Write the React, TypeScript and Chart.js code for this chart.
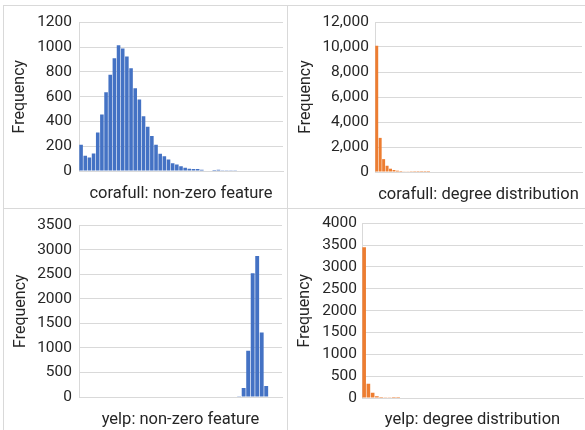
import React, { useEffect, useRef } from 'react';
import { Chart, registerables } from 'chart.js';

Chart.register(...registerables);

// ---------- data ----------
const corafullFeatureCounts = [
  211, 123, 108, 141, 310, 455, 635, 777, 910, 1015, 988, 923, 829, 667, 577, 441,
  358, 282, 212, 140, 120, 92, 63, 52, 39, 26, 18, 16, 16, 11, 5, 5, 8, 11, 3, 3, 3, 3,
  0, 0, 0, 0, 0, 0, 0, 0, 0, 0, 0,
];
const corafullDegreeCounts = [
  10100, 2730, 1030, 500, 263, 158, 105, 79, 53, 26, 15, 10, 6, 4, 3, 2,
  0, 0, 0, 0, 0, 0, 0, 0, 0, 0, 0, 0, 0, 0, 0, 0, 0, 0, 0, 0, 0, 0, 0, 0,
  0, 0, 0, 0, 0, 0, 0, 0, 0, 0, 0, 0, 0, 0, 0, 0, 0, 0, 0, 0,
];
const yelpFeatureCounts = [
  0, 0, 0, 0, 0, 0, 0, 0, 0, 0, 0, 0, 0, 0, 0, 0, 0, 0, 0, 0, 0, 0, 0, 0, 0, 0, 0, 0,
  0, 0, 0, 0, 0, 0, 0, 15, 183, 942, 2522, 2875, 1315, 224, 8, 0, 0,
];
const yelpDegreeCounts = [
  3449, 328, 123, 38, 23, 8, 4, 2, 1, 0, 0, 0, 0, 0, 0, 0, 0, 0, 0, 0, 0, 0, 0, 0, 0, 0,
  0, 0, 0, 0, 0, 0, 0, 0, 0, 0, 0, 0, 0, 0, 0, 0, 0, 0, 0, 0, 0, 0, 0, 0, 0, 0,
];

const panelTitles = [
  'corafull: non-zero feature',
  'corafull: degree distribution',
  'yelp: non-zero feature',
  'yelp: degree distribution',
];
const yAxisTitle = 'Frequency';
const yMaxima = [1200, 12000, 3500, 4000];
const ySteps = [200, 2000, 500, 500];
const useThousandsSeparator = [false, true, false, false];

const BLUE = '#4472C4';
const ORANGE = '#ED7D31';
const GRID = '#d9d9d9';
const TEXT = '#262626';
const FONT = 'Roboto';

type Box = { x: number; y: number; w: number; h: number };
type Area = { l: number; t: number; r: number; b: number };

type PanelProps = {
  values: number[];
  color: string;
  title: string;
  max: number;
  step: number;
  comma: boolean;
  box: Box;
  area: Area;
  yTitleX: number;
  tickPad: number;
  xTitleY: number;
};

const TICK_SIZE = 15.5;
const TITLE_SIZE = 16.5;
const Y_TITLE_SIZE = 16;

function Panel(p: PanelProps) {
  const ref = useRef<HTMLCanvasElement | null>(null);
  useEffect(() => {
    if (!ref.current) return;
    const yLH = Y_TITLE_SIZE * 1.2;
    const xLH = TITLE_SIZE * 1.2;
    const yw = p.area.l - p.box.x;
    const xh = p.box.y + p.box.h - p.area.b;
    const labels = p.values.map((_, i) => String(i + 1));
    const chart = new Chart(ref.current, {
      type: 'bar',
      data: {
        labels,
        datasets: [
          {
            data: p.values,
            backgroundColor: p.color,
            borderWidth: 0,
            barPercentage: 0.86,
            categoryPercentage: 1,
          },
        ],
      },
      options: {
        animation: false,
        responsive: false,
        maintainAspectRatio: false,
        layout: {
          padding: {
            left: 0,
            top: p.area.t - p.box.y,
            right: p.box.x + p.box.w - p.area.r,
            bottom: 0,
          },
        },
        plugins: {
          legend: { display: false },
          tooltip: { enabled: false },
          title: { display: false },
        },
        scales: {
          x: {
            grid: { display: false, drawTicks: false },
            border: { display: true, color: GRID, width: 1 },
            ticks: { display: false },
            title: {
              display: true,
              text: p.title,
              color: TEXT,
              font: { family: FONT, size: TITLE_SIZE },
              padding: { top: 0, bottom: Math.max(0, p.box.y + p.box.h - p.xTitleY - xLH / 2) },
            },
            afterFit: (s: any) => {
              s.height = xh;
            },
          },
          y: {
            min: 0,
            max: p.max,
            grid: { color: GRID, drawTicks: false, lineWidth: 1 },
            border: { display: true, color: GRID, width: 1 },
            ticks: {
              stepSize: p.step,
              autoSkip: false,
              padding: p.tickPad,
              color: TEXT,
              font: { family: FONT, size: TICK_SIZE },
              callback: (v: any) =>
                p.comma ? Number(v).toLocaleString('en-US') : String(v),
            },
            title: {
              display: true,
              text: yAxisTitle,
              color: TEXT,
              font: { family: FONT, size: Y_TITLE_SIZE },
              padding: { top: p.yTitleX - p.box.x - yLH / 2, bottom: 0 },
            },
            afterFit: (s: any) => {
              s.width = yw;
            },
          },
        },
      },
    });
    return () => chart.destroy();
  }, []);
  return (
    <canvas
      ref={ref}
      width={p.box.w}
      height={p.box.h}
      style={{
        position: 'absolute',
        left: p.box.x,
        top: p.box.y,
        width: p.box.w,
        height: p.box.h,
      }}
    />
  );
}

function Line(props: { x: number; y: number; w: number; h: number }) {
  return (
    <div
      style={{
        position: 'absolute',
        left: props.x,
        top: props.y,
        width: props.w,
        height: props.h,
        background: GRID,
      }}
    />
  );
}

export default function App() {
  return (
    <div
      style={{
        position: 'fixed',
        left: 0,
        top: 0,
        width: 585,
        height: 430,
        background: '#ffffff',
        overflow: 'hidden',
      }}
    >
      <Line x={3} y={5} w={582} h={1} />
      <Line x={3} y={208} w={582} h={1} />
      <Line x={3} y={5} w={1} h={425} />
      <Line x={287} y={5} w={1} h={425} />
      <Panel
        values={corafullFeatureCounts}
        color={BLUE}
        title={panelTitles[0]}
        max={yMaxima[0]}
        step={ySteps[0]}
        comma={useThousandsSeparator[0]}
        box={{ x: 4, y: 6, w: 283, h: 202 }}
        area={{ l: 79, t: 22, r: 283, b: 171 }}
        yTitleX={20}
        tickPad={7}
        xTitleY={194}
      />
      <Panel
        values={corafullDegreeCounts}
        color={ORANGE}
        title={panelTitles[1]}
        max={yMaxima[1]}
        step={ySteps[1]}
        comma={useThousandsSeparator[1]}
        box={{ x: 288, y: 6, w: 297, h: 202 }}
        area={{ l: 375, t: 22, r: 582, b: 172 }}
        yTitleX={306}
        tickPad={6}
        xTitleY={195}
      />
      <Panel
        values={yelpFeatureCounts}
        color={BLUE}
        title={panelTitles[2]}
        max={yMaxima[2]}
        step={ySteps[2]}
        comma={useThousandsSeparator[2]}
        box={{ x: 4, y: 209, w: 283, h: 221 }}
        area={{ l: 79, t: 223, r: 282, b: 397 }}
        yTitleX={20.5}
        tickPad={7}
        xTitleY={420}
      />
      <Panel
        values={yelpDegreeCounts}
        color={ORANGE}
        title={panelTitles[3]}
        max={yMaxima[3]}
        step={ySteps[3]}
        comma={useThousandsSeparator[3]}
        box={{ x: 288, y: 209, w: 297, h: 221 }}
        area={{ l: 362, t: 223, r: 583, b: 398 }}
        yTitleX={305}
        tickPad={5}
        xTitleY={421}
      />
    </div>
  );
}
